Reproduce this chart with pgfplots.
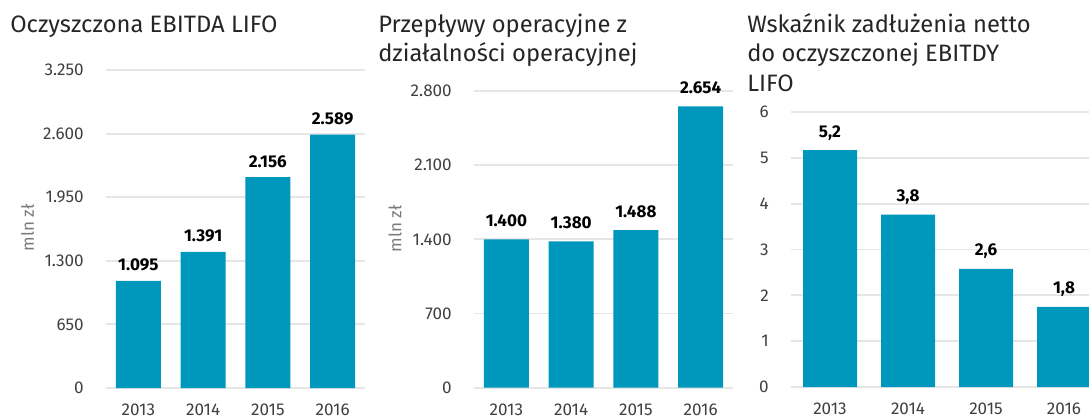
\documentclass[border=0pt]{standalone}
\usepackage{pgfplots}
\pgfplotsset{compat=1.18}
\usepackage{fontspec}
\setmainfont{Fira Sans}
\definecolor{barc}{HTML}{0097BC}
\definecolor{gridc}{HTML}{E6E6E6}
\definecolor{titc}{HTML}{262626}
\definecolor{tickc}{HTML}{404040}
\definecolor{ylc}{HTML}{7A7A7A}
\def\u{0.75pt}
\pgfplotsset{
  mybar/.style={
    scale only axis,
    axis line style={draw=none},
    ybar,
    xmin=-0.5, xmax=3.5, ymin=0,
    xtick={0,1,2,3}, xticklabels={2013,2014,2015,2016},
    ymajorgrids, grid style={gridc, line width=1.4pt},
    major tick length=0pt,
    tick label style={font=\fontsize{12.8}{14}\selectfont, text=tickc, inner sep=0pt},
    yticklabel style={anchor=east, xshift=-16.5pt},
    xticklabel style={anchor=north, yshift=-12pt},
    scaled y ticks=false,
    /pgf/number format/1000 sep={.},
    /pgf/number format/assume math mode=true,
    nodes near coords,
    point meta=explicit symbolic,
  }
}
\begin{document}
\begin{tikzpicture}
\useasboundingbox (0,0) rectangle ({1089*\u},{419*\u});
\clip (0,0) rectangle ({1089*\u},{419*\u});

% ---------- Chart 1 ----------
\begin{axis}[mybar,
  at={({106*\u},{31*\u})}, anchor=south west,
  width={259*\u}, height={318*\u},
  ymax=3250, ytick={0,650,1300,1950,2600,3250},
  bar width={45*\u},
  nodes near coords style={font=\bfseries\fontsize{12.8}{14}\selectfont, text=black, anchor=base, yshift={10*\u}, inner sep=0pt},
]
\addplot[fill=barc, draw=none] coordinates {(0,1095)[1.095] (1,1391)[1.391] (2,2156)[2.156] (3,2589)[2.589]};
\end{axis}

% ---------- Chart 2 ----------
\begin{axis}[mybar,
  at={({474*\u},{31.3*\u})}, anchor=south west,
  width={259*\u}, height={296.7*\u},
  ymax=2800, ytick={0,700,1400,2100,2800},
  bar width={45*\u},
  nodes near coords style={font=\bfseries\fontsize{12.8}{14}\selectfont, text=black, anchor=base, yshift={12.5*\u}, inner sep=0pt},
]
\addplot[fill=barc, draw=none] coordinates {(0,1400)[1.400] (1,1380)[1.380] (2,1488)[1.488] (3,2654)[2.654]};
\end{axis}

% ---------- Chart 3 ----------
\begin{axis}[mybar,
  at={({791*\u},{32*\u})}, anchor=south west,
  width={312*\u}, height={275*\u},
  ymax=6, ytick={0,1,2,3,4,5,6},
  bar width={54*\u},
  nodes near coords style={font=\bfseries\fontsize{12.8}{14}\selectfont, text=black, anchor=base, yshift={13*\u}, inner sep=0pt},
]
\addplot[fill=barc, draw=none] coordinates {(0,5.17)[5,2] (1,3.76)[3,8] (2,2.58)[2,6] (3,1.75)[1,8]};
\end{axis}

% ---------- Titles ----------
\begin{scope}[every node/.style={anchor=base west, inner sep=0pt, text=titc, font=\fontsize{17.8}{20}\selectfont}]
\node at ({10*\u},{(419-32)*\u}) {Oczyszczona EBITDA LIFO};
\node at ({378*\u},{(419-32)*\u}) {Przepływy operacyjne z};
\node at ({378*\u},{(419-61.5)*\u}) {działalności operacyjnej};
\node at ({747*\u},{(419-32)*\u}) {Wskaźnik zadłużenia netto};
\node at ({747*\u},{(419-61.5)*\u}) {do oczyszczonej EBITDY};
\node at ({747*\u},{(419-91)*\u}) {LIFO};
\end{scope}

% ---------- y labels ----------
\begin{scope}[every node/.style={rotate=90, anchor=center, inner sep=0pt, text=ylc, font=\fontsize{12.8}{14}\selectfont}]
\node at ({27.5*\u},{(419-228)*\u}) {mln zł};
\node at ({395*\u},{(419-229)*\u}) {mln zł};
\end{scope}
\end{tikzpicture}
\end{document}
